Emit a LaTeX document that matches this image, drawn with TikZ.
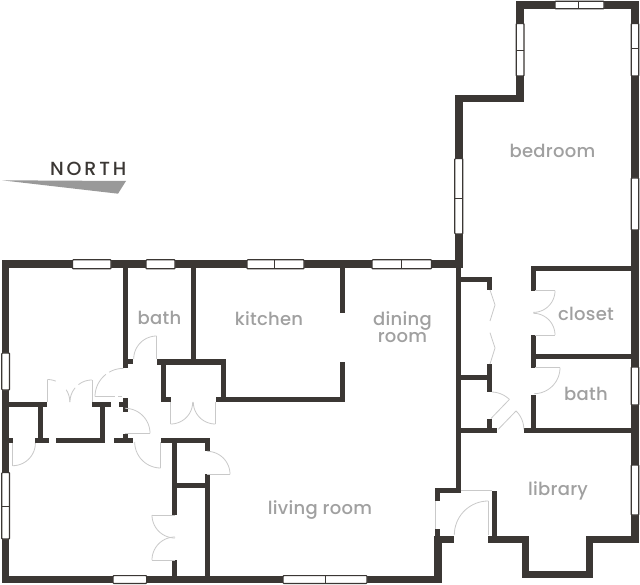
\documentclass[tikz,border=0pt]{standalone}
\usepackage{fontspec}
\setmainfont{Poppins Medium}[LetterSpace=1.5]
\newfontfamily\northfont[LetterSpace=15]{Poppins Medium}
\definecolor{wallc}{HTML}{3B3734}
\definecolor{doorc}{HTML}{C9C9C9}
\definecolor{labelc}{HTML}{A0A0A0}
\definecolor{arrowc}{HTML}{999999}
\tikzset{
  wallrect/.style={fill=wallc,draw=none},
  winrect/.style={fill=white,draw=wallc,line width=1.2pt,rounded corners=0.8pt},
  windiv/.style={draw=wallc,line width=0.8pt},
  doorline/.style={draw=doorc,line width=0.8pt},
  roomlabel/.style={text=labelc,font=\fontsize{18}{17}\selectfont,align=center,inner sep=0pt,anchor=base},
}
\newcommand\wl[4]{\fill[wallrect] (#1,#2) rectangle (#3,#4);}
\newcommand\winh[4]{\draw[winrect] (#1,#2) rectangle (#3,#4);}
\newcommand\darc[5]{\draw[doorline] plot[domain=#4:#5,samples=18] ({#1+#3*cos(\x)},{#2+#3*sin(\x)});}
\newcommand\dl[4]{\draw[doorline] (#1,#2) -- (#3,#4);}
\begin{document}
\begin{tikzpicture}[x=1pt,y=-1pt]
\useasboundingbox (0,0) rectangle (640,585);
\fill[white] (0,0) rectangle (640,585);
% north arrow
\fill[arrowc] (2,180.3) -- (126,181) -- (118,193.7) -- cycle;
\node[text=wallc,font=\northfont\fontsize{19}{19}\selectfont,inner sep=0pt,anchor=base west] (north) at (50,176) {NORTH};
% outer walls
\wl{1.5}{260.3}{463}{268.3}
\wl{1.7}{260.3}{9.3}{583}
\wl{1.7}{576}{441.5}{583}
\wl{454.8}{95}{462.8}{268}
\wl{456}{264}{461}{493}
\wl{454.8}{95}{524}{102.5}
\wl{516.3}{1}{524}{102.5}
\wl{516.3}{1}{639}{9}
\wl{631}{1}{639}{543}
\wl{435}{488}{461}{493}
\wl{435}{488}{440}{501}
\wl{435}{529}{440}{537}
\wl{434}{536}{441.5}{583}
\wl{435}{536}{453.5}{543}
\wl{492}{491}{497}{540}
\wl{488.3}{536}{528.7}{543}
\wl{521.7}{536}{529}{578}
\wl{521.7}{571}{593.3}{578}
\wl{586}{536}{593.3}{578}
\wl{586}{536}{639}{543}
% interior walls, west wing
\wl{123}{264}{128}{368}
\wl{123}{359}{133.3}{364}
\wl{191}{264}{196}{362}
\wl{157}{359}{226}{365}
\wl{161}{362}{166}{402}
\wl{161}{397}{171}{402}
\wl{221}{362}{226}{402}
\wl{216}{397}{345}{402}
\wl{340}{362}{345}{402}
\wl{340}{264}{345}{313}
\wl{9}{402}{47.3}{407}
\wl{38}{405}{43}{441}
\wl{35}{438}{48.5}{443}
\wl{9}{438}{12.5}{443}
\wl{55.7}{438}{105}{443}
\wl{100}{402}{105}{443}
\wl{92}{402}{111}{407}
\wl{123}{398}{128}{412}
\wl{119.3}{402}{124}{407}
\wl{114.3}{438}{133.3}{443}
\wl{123}{433.5}{128}{440}
\wl{161}{438}{210}{443}
\wl{172}{438}{177}{515}
\wl{172}{560}{177}{577}
\wl{205}{438}{210}{451.3}
\wl{205}{474.3}{210}{577}
\wl{175}{483}{207}{488}
% interior walls, east wing
\wl{531}{266}{632}{271}
\wl{531}{266}{536}{291}
\wl{531}{335}{536}{368}
\wl{531}{354}{632}{359}
\wl{531}{395}{536}{432}
\wl{524.3}{428}{632}{433}
\wl{456}{428}{497}{433}
\wl{487}{419.3}{492}{432}
\wl{487}{364.3}{492}{392}
\wl{458}{375}{490}{380}
\wl{458}{277}{492}{282}
\wl{487}{277}{492}{290}
% windows
\winh{72.5}{259.8}{111}{268.8}
\winh{146}{259.8}{175}{268.8}
\winh{247}{259.8}{304}{268.8}
\draw[windiv] (274.5,259.8) -- (274.5,268.8);
\winh{372}{259.8}{431.5}{268.8}
\draw[windiv] (401,259.8) -- (401,268.8);
\winh{1.8}{353}{9.5}{390}
\winh{1.8}{472.5}{9.5}{539}
\draw[windiv] (1.8,506) -- (9.5,506);
\winh{113}{575.6}{146.7}{583.4}
\winh{283}{575.6}{367}{583.4}
\draw[windiv] (325,575.6) -- (325,583.4);
\winh{555}{1.2}{604}{8.8}
\draw[windiv] (578.5,1.2) -- (578.5,8.8);
\winh{516.2}{23.5}{524}{76}
\draw[windiv] (516.2,50) -- (524,50);
\winh{631.2}{23.5}{638.8}{76}
\draw[windiv] (631.2,48.5) -- (638.8,48.5);
\winh{631.2}{178}{638.8}{230}
\winh{454.8}{158.5}{462.8}{234}
\draw[windiv] (454.8,198) -- (462.8,198);
\winh{631.2}{367}{638.8}{405}
\winh{631.2}{465}{638.8}{515}
% doors, west wing
\dl{12.7}{443}{12.7}{465.7}\darc{12.7}{443}{22.7}{0}{90}
\dl{47.3}{402}{47.3}{380}\darc{47.3}{402}{22.5}{-90}{-68}\darc{47.3}{402}{22.5}{-33}{0}
\dl{92}{402}{92}{380}\darc{92}{402}{22}{-90}{-128}\darc{92}{402}{22}{-140}{-180}
\dl{95}{396.7}{115}{396.7}\dl{118}{396.7}{122}{396.7}\darc{123.3}{396.7}{28.3}{180}{232}\darc{123.3}{396.7}{28.3}{240}{270}
\dl{156.7}{336}{156.7}{359}\darc{156.7}{359}{23}{180}{270}
\dl{125}{433.3}{150}{433.3}\darc{125}{433.3}{25}{-90}{0}
\dl{160.7}{442}{160.7}{467.7}\darc{160.7}{442}{26}{90}{180}
\dl{170.7}{402}{170.7}{423.5}\darc{170.7}{402}{22}{0}{90}
\dl{215.3}{402}{215.3}{423.5}\darc{215.3}{402}{22}{90}{180}
\dl{207}{474.3}{230}{474.3}\darc{207}{474.3}{23}{-90}{0}
\dl{151.7}{515}{175}{515}\darc{175}{515}{23}{90}{180}
\dl{151.7}{560}{175}{560}\darc{175}{560}{23}{180}{270}
% doors, east wing
\draw[doorline] (490,290) -- (495,305) -- (490,321);
\draw[doorline] (490,332.7) -- (495,348) -- (490,364);
\dl{535}{290.7}{555}{290.7}\darc{533.3}{290.7}{21.7}{0}{90}
\dl{535}{335}{555}{335}\darc{533.3}{335}{21.7}{-90}{0}
\dl{535}{367.7}{560}{367.7}\darc{534}{367.7}{26}{0}{90}
\dl{491}{418.5}{509.4}{399.4}\darc{491}{418.5}{26.5}{-88}{-46}
\dl{498.3}{429.3}{516}{411}\darc{498.3}{429.3}{25.5}{-46}{0}
\dl{460.7}{490.7}{491.7}{490.7}
\dl{435}{501}{435}{529}
\dl{488.3}{501}{488.3}{535}\darc{488.3}{535}{34}{180}{270}
% labels
\node[roomlabel] (bedroom) at (552.5,157.5) {bedroom};
\node[roomlabel] (bath1) at (159.5,325) {bath};
\node[roomlabel] (kitchen) at (269,326) {kitchen};
\node[roomlabel] (dining) at (402.5,326) {dining};
\node[roomlabel] (diningb) at (402.5,342) {room};
\node[roomlabel] (closet) at (586,320.7) {closet};
\node[roomlabel] (bath2) at (586,400.7) {bath};
\node[roomlabel] (library) at (558,495.7) {library};
\node[roomlabel] (living) at (320,514) {living room};
\end{tikzpicture}
\end{document}
